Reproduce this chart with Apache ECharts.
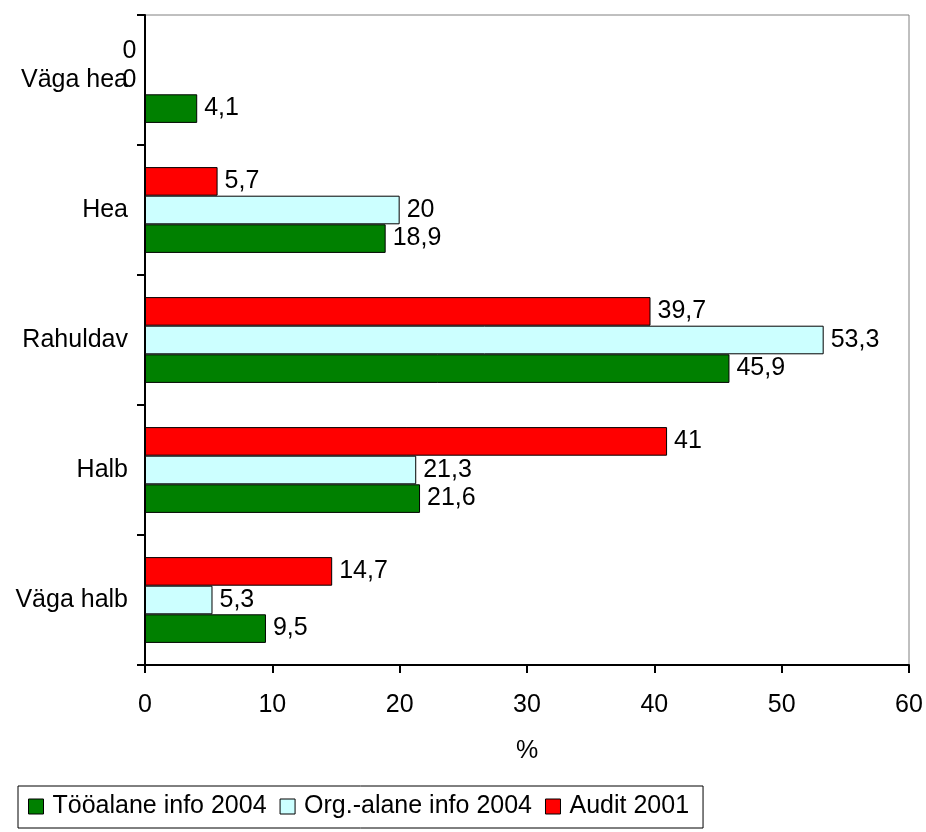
<!DOCTYPE html>
<html>
<head>
<meta charset="utf-8">
<script src="https://cdn.jsdelivr.net/npm/echarts@6/dist/echarts.min.js"></script>
<style>
  html, body { margin: 0; padding: 0; background: #fff; }
  #chart { width: 926px; height: 832px; }
</style>
</head>
<body>
<div id="chart"></div>
<script>
// Hinnangute kategooriad (alt üles)
const categories = ['Väga halb', 'Halb', 'Rahuldav', 'Hea', 'Väga hea'];

// Sarjade väärtused protsentides, samas järjekorras
const legendNames = ['Tööalane info 2004', 'Org.-alane info 2004', 'Audit 2001'];
const tooalane2004 = [9.5, 21.6, 45.9, 18.9, 4.1];
const orgAlane2004 = [5.3, 21.3, 53.3, 20, 0];
const audit2001 = [14.7, 41, 39.7, 5.7, 0];

const xTicks = { min: 0, max: 60, interval: 10 };

const FONT = "'Liberation Sans', Arial, sans-serif";
const FS = 25;

function fmt(v) {
  return String(v).replace('.', ',');
}

function toData(values) {
  // nullväärtuse silt paigutub telje vasakule poole
  return values.map(v => v === 0 ? { value: v, label: { position: 'left', distance: 8 } } : v);
}

// Rühmas joonistatakse esimene sari ülemiseks, seega audit enne
const seriesDefs = [
  { name: 'Audit 2001', values: audit2001, color: '#FF0000' },
  { name: 'Org.-alane info 2004', values: orgAlane2004, color: '#CCFFFF' },
  { name: 'Tööalane info 2004', values: tooalane2004, color: '#008000' }
];

const chart = echarts.init(document.getElementById('chart'), null, { renderer: 'canvas' });
chart.setOption({
  animation: false,
  backgroundColor: '#fff',
  textStyle: { fontFamily: FONT, color: '#000' },
  grid: {
    left: 145, right: 17, top: 15, bottom: 167,
    show: true, borderColor: '#808080', borderWidth: 1, backgroundColor: 'transparent'
  },
  legend: {
    left: 18, top: 786,
    padding: [8, 14, 9, 10],
    borderColor: '#000', borderWidth: 1,
    itemWidth: 15, itemHeight: 15, itemGap: 13,
    icon: 'rect',
    itemStyle: { borderColor: '#000', borderWidth: 1 },
    textStyle: { fontFamily: FONT, fontSize: FS, color: '#000', padding: [0, 0, 0, 4] },
    data: legendNames
  },
  xAxis: {
    type: 'value',
    min: xTicks.min, max: xTicks.max, interval: xTicks.interval,
    name: '%',
    nameLocation: 'middle',
    nameGap: 74,
    nameTextStyle: { fontFamily: FONT, fontSize: FS, color: '#000' },
    axisLine: { show: true, lineStyle: { color: '#000', width: 2 } },
    axisTick: { show: true, length: 8, lineStyle: { color: '#000', width: 2 } },
    axisLabel: { fontFamily: FONT, fontSize: FS, color: '#000', margin: 28 },
    splitLine: { show: false }
  },
  yAxis: {
    type: 'category',
    data: categories,
    axisLine: { show: true, lineStyle: { color: '#000', width: 2 } },
    axisTick: { show: true, length: 8, lineStyle: { color: '#000', width: 2 } },
    axisLabel: { fontFamily: FONT, fontSize: FS, color: '#000', margin: 17 },
    splitLine: { show: false }
  },
  series: seriesDefs.map(s => ({
    name: s.name,
    type: 'bar',
    data: toData(s.values),
    barGap: '0%',
    barCategoryGap: '34%',
    itemStyle: { color: s.color, borderColor: '#000', borderWidth: 1 },
    label: {
      show: true,
      position: 'right',
      distance: 7,
      fontFamily: FONT,
      fontSize: FS,
      color: '#000',
      formatter: p => fmt(p.value)
    }
  }))
});
</script>
</body>
</html>
